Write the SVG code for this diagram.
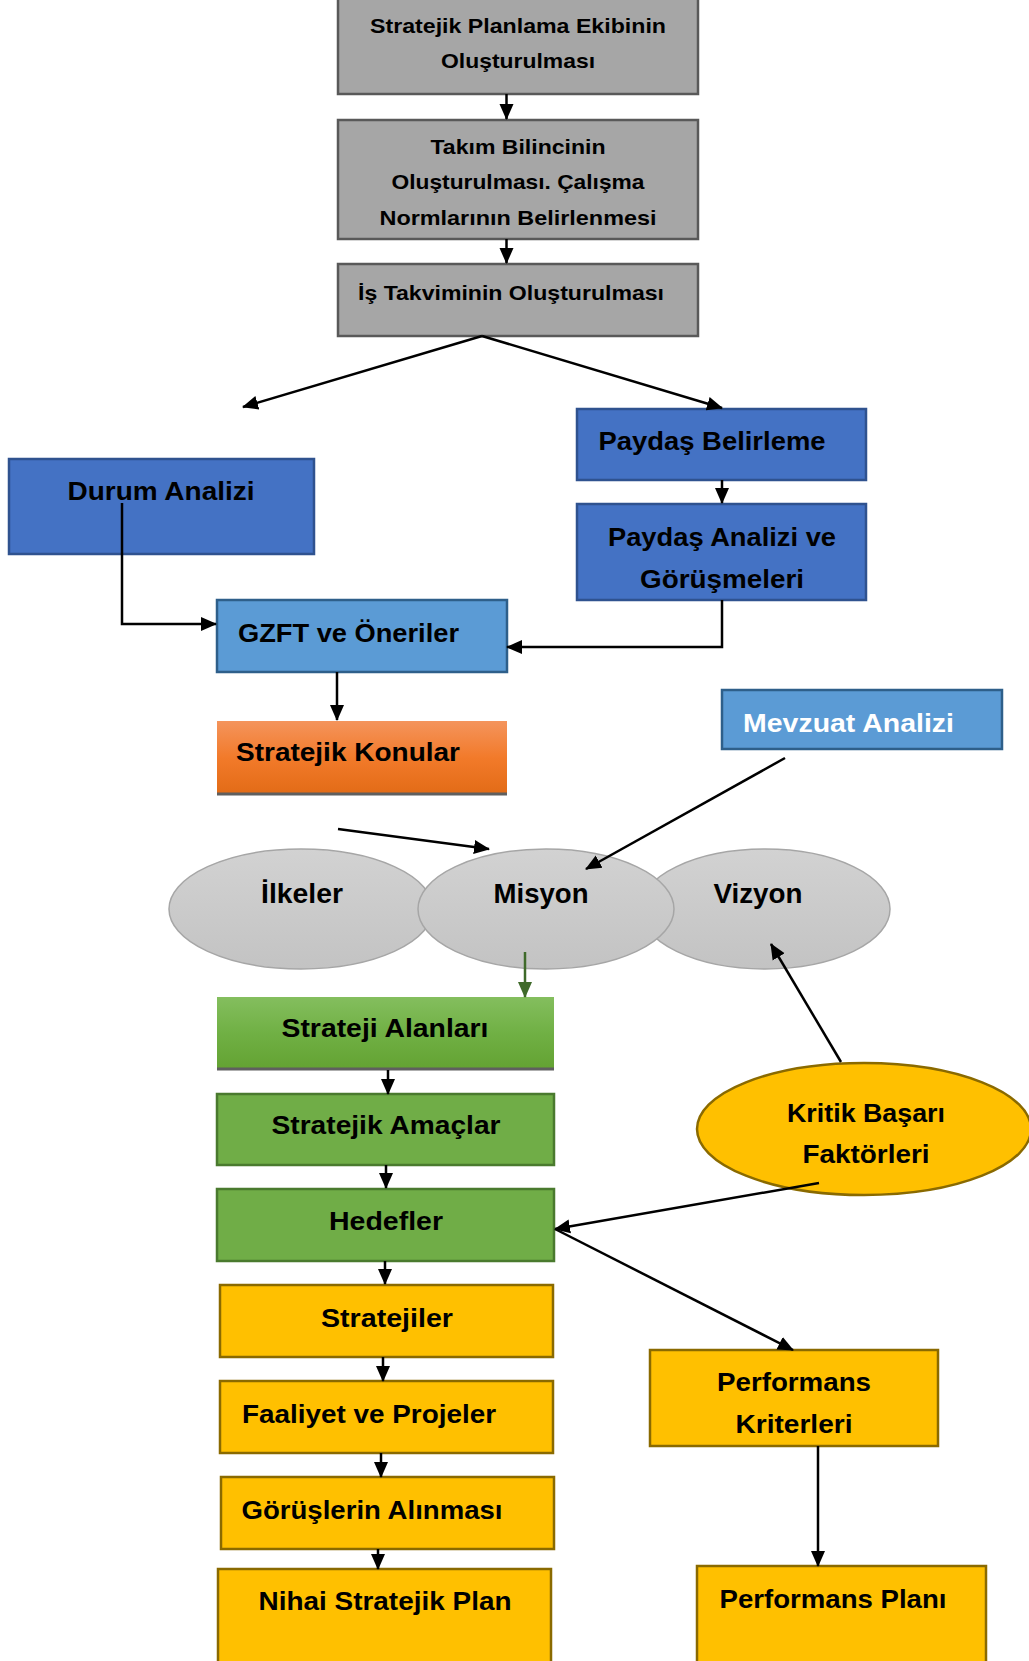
<svg xmlns="http://www.w3.org/2000/svg" width="1029" height="1661" viewBox="0 0 1029 1661">
<style>
text{font-family:"Liberation Sans",Arial,sans-serif;font-weight:bold;fill:#000;text-anchor:middle}
.t1{font-size:21px}
.t2{font-size:26.5px}
.t3{font-size:28px}
.gray{fill:#a6a6a6;stroke:#595959;stroke-width:2.5}
.blue{fill:#4472c4;stroke:#2f528f;stroke-width:2.5}
.lblue{fill:#5b9bd5;stroke:#2e5f8a;stroke-width:2.5}
.green{fill:#70ad47;stroke:#4a7a2e;stroke-width:2.5}
.yel{fill:#ffc000;stroke:#8a6a00;stroke-width:2.5}
.ell{fill:url(#gEll);stroke:#a6a6a6;stroke-width:1.5}
.c{fill:none;stroke:#000;stroke-width:2.5}
</style>
<defs>
<marker id="ah" markerUnits="userSpaceOnUse" markerWidth="16" markerHeight="16" viewBox="0 0 16 16" refX="15" refY="8" orient="auto">
<path d="M0,1 L16,8 L0,15 Z" fill="#000"/>
</marker>
<marker id="ahg" markerUnits="userSpaceOnUse" markerWidth="16" markerHeight="16" viewBox="0 0 16 16" refX="15" refY="8" orient="auto">
<path d="M0,1 L16,8 L0,15 Z" fill="#3f6a2a"/>
</marker>
<linearGradient id="gOr" x1="0" y1="0" x2="0" y2="1">
<stop offset="0" stop-color="#f4945c"/><stop offset="0.5" stop-color="#f27a2a"/><stop offset="1" stop-color="#e26b16"/>
</linearGradient>
<linearGradient id="gGr" x1="0" y1="0" x2="0" y2="1">
<stop offset="0" stop-color="#84be5e"/><stop offset="0.5" stop-color="#70b044"/><stop offset="1" stop-color="#63a232"/>
</linearGradient>
<linearGradient id="gEll" x1="0" y1="0" x2="0" y2="1">
<stop offset="0" stop-color="#d2d2d2"/><stop offset="1" stop-color="#c3c3c3"/>
</linearGradient>
</defs>

<g id="n1"><rect class="gray" x="338" y="-2" width="360" height="96"/>
<text class="t1" x="518" y="33" textLength="296" lengthAdjust="spacingAndGlyphs">Stratejik Planlama Ekibinin</text>
<text class="t1" x="518" y="68" textLength="154" lengthAdjust="spacingAndGlyphs">Oluşturulması</text></g>

<g id="n2"><rect class="gray" x="338" y="120" width="360" height="119"/>
<text class="t1" x="518" y="154" textLength="175" lengthAdjust="spacingAndGlyphs">Takım Bilincinin</text>
<text class="t1" x="518" y="189" textLength="253" lengthAdjust="spacingAndGlyphs">Oluşturulması. Çalışma</text>
<text class="t1" x="518" y="225" textLength="277" lengthAdjust="spacingAndGlyphs">Normlarının Belirlenmesi</text></g>

<g id="n3"><rect class="gray" x="338" y="264" width="360" height="72"/>
<text class="t1" x="511" y="300" textLength="306" lengthAdjust="spacingAndGlyphs">İş Takviminin Oluşturulması</text></g>

<g id="n4"><rect class="blue" x="577" y="409" width="289" height="71"/>
<text class="t2" x="712" y="450" textLength="227" lengthAdjust="spacingAndGlyphs">Paydaş Belirleme</text></g>

<g id="n5"><rect class="blue" x="577" y="504" width="289" height="96"/>
<text class="t2" x="722" y="546" textLength="228" lengthAdjust="spacingAndGlyphs">Paydaş Analizi ve</text>
<text class="t2" x="722" y="588" textLength="164" lengthAdjust="spacingAndGlyphs">Görüşmeleri</text></g>

<g id="n6"><rect class="blue" x="9" y="459" width="305" height="95"/>
<text class="t2" x="161" y="500" textLength="187" lengthAdjust="spacingAndGlyphs">Durum Analizi</text></g>

<g id="n7"><rect class="lblue" x="217" y="600" width="290" height="72"/>
<text class="t2" x="348.5" y="642" textLength="221" lengthAdjust="spacingAndGlyphs">GZFT ve Öneriler</text></g>

<g id="n8"><rect x="217" y="721" width="290" height="74" fill="url(#gOr)"/>
<line x1="217" y1="794" x2="507" y2="794" stroke="#5f5f5f" stroke-width="3"/>
<text class="t2" x="348" y="761" textLength="224" lengthAdjust="spacingAndGlyphs">Stratejik Konular</text></g>

<g id="n9"><rect class="lblue" x="722" y="690" width="280" height="59"/>
<text class="t2" x="848.5" y="732" textLength="211" lengthAdjust="spacingAndGlyphs" style="fill:#fff">Mevzuat Analizi</text></g>

<g id="n10"><ellipse class="ell" cx="765" cy="909" rx="125" ry="60"/>
<text class="t3" x="758" y="903" textLength="89" lengthAdjust="spacingAndGlyphs">Vizyon</text></g>
<g id="n11"><ellipse class="ell" cx="301" cy="909" rx="132" ry="60"/>
<text class="t3" x="302" y="903" textLength="82" lengthAdjust="spacingAndGlyphs">İlkeler</text></g>
<g id="n12"><ellipse class="ell" cx="546" cy="909" rx="128" ry="60"/>
<text class="t3" x="541" y="903" textLength="95" lengthAdjust="spacingAndGlyphs">Misyon</text></g>

<g id="n13"><rect x="217" y="997" width="337" height="73" fill="url(#gGr)"/>
<line x1="217" y1="1069" x2="554" y2="1069" stroke="#5f5f5f" stroke-width="3"/>
<text class="t2" x="385" y="1037" textLength="207" lengthAdjust="spacingAndGlyphs">Strateji Alanları</text></g>

<g id="n14"><rect class="green" x="217" y="1094" width="337" height="71"/>
<text class="t2" x="386" y="1134" textLength="229" lengthAdjust="spacingAndGlyphs">Stratejik Amaçlar</text></g>

<g id="n15"><rect class="green" x="217" y="1189" width="337" height="72"/>
<text class="t2" x="386" y="1230" textLength="114" lengthAdjust="spacingAndGlyphs">Hedefler</text></g>

<g id="n16"><rect class="yel" x="220" y="1285" width="333" height="72"/>
<text class="t2" x="387" y="1327" textLength="132" lengthAdjust="spacingAndGlyphs">Stratejiler</text></g>

<g id="n17"><rect class="yel" x="220" y="1381" width="333" height="72"/>
<text class="t2" x="369" y="1423" textLength="254" lengthAdjust="spacingAndGlyphs">Faaliyet ve Projeler</text></g>

<g id="n18"><rect class="yel" x="221" y="1477" width="333" height="72"/>
<text class="t2" x="372" y="1519" textLength="261" lengthAdjust="spacingAndGlyphs">Görüşlerin Alınması</text></g>

<g id="n19"><rect class="yel" x="218" y="1569" width="333" height="100"/>
<text class="t2" x="385" y="1610" textLength="253" lengthAdjust="spacingAndGlyphs">Nihai Stratejik Plan</text></g>

<g id="n20"><ellipse cx="864" cy="1129" rx="167" ry="66" fill="#ffc000" stroke="#8a6a00" stroke-width="2.5"/>
<text class="t2" x="866" y="1122" textLength="158" lengthAdjust="spacingAndGlyphs">Kritik Başarı</text>
<text class="t2" x="866" y="1163" textLength="127" lengthAdjust="spacingAndGlyphs">Faktörleri</text></g>

<g id="n21"><rect class="yel" x="650" y="1350" width="288" height="96"/>
<text class="t2" x="794" y="1391" textLength="154" lengthAdjust="spacingAndGlyphs">Performans</text>
<text class="t2" x="794" y="1433" textLength="117" lengthAdjust="spacingAndGlyphs">Kriterleri</text></g>

<g id="n22"><rect class="yel" x="697" y="1566" width="289" height="100"/>
<text class="t2" x="833" y="1608" textLength="227" lengthAdjust="spacingAndGlyphs">Performans Planı</text></g>

<g id="connectors">
<line class="c" x1="506.5" y1="94" x2="506.5" y2="119" marker-end="url(#ah)"/>
<line class="c" x1="506.5" y1="239" x2="506.5" y2="263" marker-end="url(#ah)"/>
<line class="c" x1="482" y1="336" x2="243" y2="407" marker-end="url(#ah)"/>
<line class="c" x1="482" y1="336" x2="722" y2="408" marker-end="url(#ah)"/>
<line class="c" x1="722" y1="480" x2="722" y2="503" marker-end="url(#ah)"/>
<polyline class="c" points="722,600 722,647 507,647" marker-end="url(#ah)"/>
<polyline class="c" points="122,503 122,624 216,624" marker-end="url(#ah)"/>
<line class="c" x1="337" y1="672" x2="337" y2="720" marker-end="url(#ah)"/>
<line class="c" x1="785" y1="758" x2="586" y2="869" marker-end="url(#ah)"/>
<line class="c" x1="338" y1="829" x2="489" y2="849" marker-end="url(#ah)"/>
<line x1="525" y1="952" x2="525" y2="997" stroke="#3f6a2a" stroke-width="2.5" marker-end="url(#ahg)"/>
<line class="c" x1="388" y1="1070" x2="388" y2="1094" marker-end="url(#ah)"/>
<line class="c" x1="386" y1="1165" x2="386" y2="1188" marker-end="url(#ah)"/>
<line class="c" x1="385" y1="1261" x2="385" y2="1284" marker-end="url(#ah)"/>
<line class="c" x1="383" y1="1357" x2="383" y2="1381" marker-end="url(#ah)"/>
<line class="c" x1="381" y1="1453" x2="381" y2="1477" marker-end="url(#ah)"/>
<line class="c" x1="378" y1="1549" x2="378" y2="1569" marker-end="url(#ah)"/>
<line class="c" x1="841" y1="1062" x2="771" y2="944" marker-end="url(#ah)"/>
<line class="c" x1="819" y1="1183" x2="555" y2="1229" marker-end="url(#ah)"/>
<line class="c" x1="555" y1="1229" x2="793" y2="1350" marker-end="url(#ah)"/>
<line class="c" x1="818" y1="1446" x2="818" y2="1566" marker-end="url(#ah)"/>
</g>
</svg>
